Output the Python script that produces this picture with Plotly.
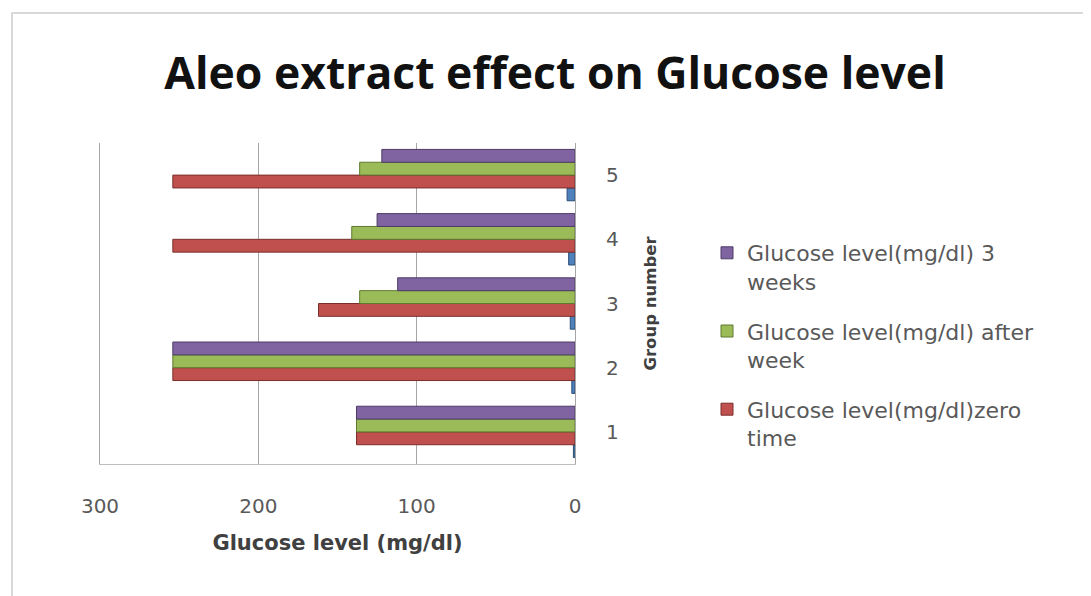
import plotly.graph_objects as go

groups = ["1", "2", "3", "4", "5"]
group_series = [1, 2, 3, 4, 5]
zero_time = [138, 254, 162, 254, 254]
after_week = [138, 254, 136, 141, 136]
three_weeks = [138, 254, 112, 125, 122]

names = {
    "three": "Glucose level(mg/dl) 3<br>weeks",
    "after": "Glucose level(mg/dl) after<br>week",
    "zero": "Glucose level(mg/dl)zero<br>time",
}

fig = go.Figure()
fig.add_trace(go.Bar(y=groups, x=group_series, orientation="h", name="Group number",
                     marker=dict(color="#4F81BD", line=dict(color="#2c4d75", width=1)),
                     showlegend=False))
fig.add_trace(go.Bar(y=groups, x=zero_time, orientation="h", name=names["zero"], legendgroup="z",
                     legendrank=3,
                     marker=dict(color="#C0504D", line=dict(color="#7a2f2d", width=1))))
fig.add_trace(go.Bar(y=groups, x=after_week, orientation="h", name=names["after"], legendgroup="a",
                     legendrank=2,
                     marker=dict(color="#9BBB59", line=dict(color="#5f7a2e", width=1))))
fig.add_trace(go.Bar(y=groups, x=three_weeks, orientation="h", name=names["three"], legendgroup="t",
                     legendrank=1,
                     marker=dict(color="#8064A2", line=dict(color="#4d3b66", width=1))))

OFF = 8  # page offset of the figure
L, R, T, B = 100 - OFF, 575 - OFF, 143 - OFF, 464 - OFF
W, H = 1091 - OFF, 596 - OFF
pw, ph = R - L, B - T

fig.update_layout(
    width=W, height=H,
    margin=dict(l=L, r=W - R, t=T, b=H - B),
    paper_bgcolor="white", plot_bgcolor="white",
    barmode="group", bargap=0.2, bargroupgap=0.0,
    font=dict(family="DejaVu Sans", color="#595959"),
    title=dict(text="<b>Aleo extract effect on Glucose level</b>", x=(555 - OFF) / W, xanchor="center",
               y=1 - (73 - OFF) / H, yanchor="middle",
               font=dict(family="Open Sans", size=44.5, color="#111111")),
    xaxis=dict(range=[300, 0], tickvals=[300, 200, 100, 0], showgrid=True, gridcolor="#a6a6a6",
               gridwidth=1, zeroline=False, showline=True, linecolor="#bfbfbf",
               ticks="", ticklabelstandoff=24,
               tickfont=dict(size=20, color="#595959"),
               title=dict(text="<b>Glucose level (mg/dl)</b>", standoff=18,
                          font=dict(size=21, color="#404040"))),
    yaxis=dict(side="right", showgrid=False, showline=True, linecolor="#a6a6a6", mirror=True,
               ticks="", ticklabelstandoff=26, tickfont=dict(size=20, color="#595959"),
               title=dict(text="<b>Group number</b>", standoff=26,
                          font=dict(size=16.5, color="#404040"))),
    legend=dict(x=(699 - L) / pw, xanchor="left", y=1 - (224 - T) / ph, yanchor="top",
                traceorder="grouped", valign="top", tracegroupgap=18,
                font=dict(size=22, color="#595959"), itemwidth=30),
    shapes=[dict(type="rect", xref="paper", yref="paper",
                 x0=(12 - OFF - L) / pw, x1=(1089 - OFF - L) / pw,
                 y0=-(610 - OFF - B) / ph, y1=1 + (T - (13 - OFF)) / ph,
                 line=dict(color="#d9d9d9", width=2), layer="below")],
)

fig.write_html("out.html")
